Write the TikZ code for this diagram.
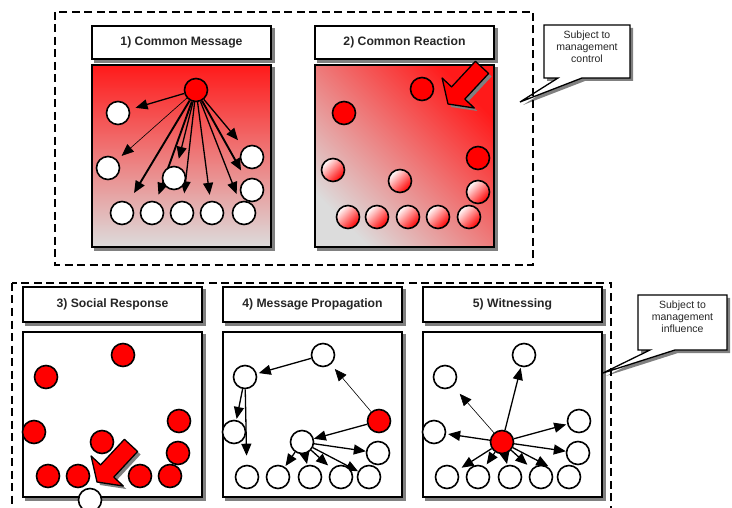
\documentclass[tikz,border=0pt]{standalone}
\usepackage{fontspec}
\setmainfont{Liberation Sans}
\usetikzlibrary{arrows.meta}
\pgfdeclarelayer{shadows}
\pgfdeclarelayer{boxes}
\pgfdeclarelayer{links}
\pgfsetlayers{shadows,boxes,links,main}
\definecolor{shadegray}{HTML}{808080}
\definecolor{panelgray}{HTML}{DCDCDC}
\definecolor{hotred}{HTML}{FF1A1A}

\tikzset{
  block arrow/.pic={
    \fill[shadegray, shift={(3,3)}] (27.4,-42.7) -- (40.6,-30.5) -- (16.8,-4.9) -- (26.3,4) -- (0,0) -- (-5.9,-26) -- (3.6,-17.1) -- cycle;
    \filldraw[fill=red, draw=black, line width=1.3pt, line join=round] (27.4,-42.7) -- (40.6,-30.5) -- (16.8,-4.9) -- (26.3,4) -- (0,0) -- (-5.9,-26) -- (3.6,-17.1) -- cycle;
  }
}

\begin{document}
\begin{tikzpicture}[x=1pt,y=-1pt,
  dot/.style={circle, draw=black, line width=1.6pt, minimum size=23pt, inner sep=0pt, fill=white},
  reddot/.style={dot, fill=red},
  fadedot/.style={dot, shading=axis, top color=white, bottom color=red, shading angle=45},
  link/.style={line width=1.3pt, -{Triangle[length=12pt,width=10pt]}, shorten >=#1},
  link/.default=7pt,
  thinlink/.style={line width=0.6pt},
  thicklink/.style={line width=1.9pt},
  titlebox/.style={draw=black, line width=1.3pt, fill=white, minimum width=179pt, minimum height=33pt,
    inner sep=0pt, font=\fontsize{12.2}{14}\selectfont\bfseries, text=black!85},
  panelbox/.style={draw=black, line width=1.8pt, fill=white, minimum width=179pt, minimum height=182pt, inner sep=0pt},
  groupline/.style={draw=black, line width=1.5pt, dash pattern=on 8pt off 4.5pt},
  callout/.style={draw=black, line width=1.3pt, fill=white, line join=miter},
  callouttext/.style={align=center, font=\fontsize{10.5}{12.2}\selectfont, text=black!85, inner sep=0pt}
]
\useasboundingbox (0,0) rectangle (732,508);

% ---------- frames of the five stages ----------
\begin{pgfonlayer}{boxes}
  \node[titlebox] (t1) at (181.5,42.5) {1) Common Message};
  \node[titlebox] (t2) at (404.5,42.5) {2) Common Reaction};
  \node[panelbox, shading=axis, top color=hotred, bottom color=panelgray] (p1) at (181.5,156) {};
  \node[panelbox, shading=axis, top color=hotred, bottom color=panelgray, shading angle=-45] (p2) at (404.5,156) {};

  \node[titlebox, minimum height=35pt] (t3) at (112.5,304.5) {3) Social Response};
  \node[titlebox, minimum height=35pt] (t4) at (312.5,304.5) {4) Message Propagation};
  \node[titlebox, minimum height=35pt] (t5) at (512.5,304.5) {5) Witnessing};
  \node[panelbox, minimum height=165pt] (p3) at (112.5,414.5) {};
  \node[panelbox, minimum height=165pt] (p4) at (312.5,414.5) {};
  \node[panelbox, minimum height=165pt] (p5) at (512.5,414.5) {};
\end{pgfonlayer}
\begin{pgfonlayer}{shadows}
  \foreach \b in {t1,t2,p1,p2,t3,t4,t5,p3,p4,p5}
    \fill[shadegray] ([xshift=3pt,yshift=-3pt]\b.north west) rectangle ([xshift=3pt,yshift=-3pt]\b.south east);
\end{pgfonlayer}

% ---------- 1) common message ----------
\node[reddot] (m0) at (196,90) {};
\node[dot] (m1) at (118,113) {};
\node[dot] (m2) at (108,168) {};
\node[dot] (m3) at (174,178) {};
\node[dot] (m4) at (252,157) {};
\node[dot] (m5) at (252,190) {};
\node[dot] (m6) at (122,213) {};
\node[dot] (m7) at (152,213) {};
\node[dot] (m8) at (182,213) {};
\node[dot] (m9) at (212,213) {};
\node[dot] (m10) at (244,213) {};
\begin{pgfonlayer}{links}
  \draw[link=6pt] (m0) -- (m1);
  \draw[link=6pt, thinlink] (m0) -- (m2);
  \draw[link=11pt, thicklink] (m0) -- (m6);
  \draw[link=7pt, thicklink] (m0) -- (m7);
  \draw[link=7.5pt] (m0) -- (m3);
  \draw[link=7.5pt] (m0) -- (m8);
  \draw[link=6pt] (m0) -- (m9);
  \draw[link=8pt] (m0) -- (m10);
  \draw[link=10pt, thicklink] (m0) -- (m5);
  \draw[link=9.5pt] (m0) -- (m4);
\end{pgfonlayer}

% ---------- 2) common reaction ----------
\node[reddot] (r1) at (422,89) {};
\node[reddot] (r2) at (344,113) {};
\node[reddot] (r3) at (478,158) {};
\node[fadedot] (r4) at (333,170) {};
\node[fadedot] (r5) at (400,181) {};
\node[fadedot] (r6) at (478,192) {};
\node[fadedot] (r7) at (348,217) {};
\node[fadedot] (r8) at (377,217) {};
\node[fadedot] (r9) at (408,217) {};
\node[fadedot] (r10) at (438,217) {};
\node[fadedot] (r11) at (469,217) {};
\pic at (448,104) {block arrow};

% ---------- 3) social response ----------
\node[reddot] (s1) at (123,355) {};
\node[reddot] (s2) at (46,377) {};
\node[reddot] (s3) at (34,432) {};
\node[reddot] (s4) at (179,421) {};
\node[reddot] (s5) at (102,442) {};
\node[reddot] (s6) at (178,453) {};
\node[reddot] (s7) at (48,476) {};
\node[reddot] (s8) at (78,476) {};
\node[reddot] (s9) at (140,476) {};
\node[reddot] (s10) at (170,476) {};
\node[dot] (s11) at (90,500) {};
\pic at (97,482) {block arrow};

% ---------- 4) message propagation ----------
\node[dot] (q1) at (323,355) {};
\node[dot] (q2) at (245,377) {};
\node[dot] (q3) at (234,432) {};
\node[reddot] (q4) at (379,421) {};
\node[dot] (q5) at (302,442) {};
\node[dot] (q6) at (378,453) {};
\node[dot] (q7) at (247,477) {};
\node[dot] (q8) at (278,477) {};
\node[dot] (q9) at (310,477) {};
\node[dot] (q10) at (341,477) {};
\node[dot] (q11) at (369,477) {};
\begin{pgfonlayer}{links}
  \draw[link=2pt] (q1) -- (q2);
  \draw[link=6pt, thinlink] (q4) -- (q1);
  \draw[link=1pt] (q2) -- (q3);
  \draw[link=9pt] (q2) -- (q7);
  \draw[link=0pt] (q4) -- (q5);
  \draw[link=1pt] (q5) -- (q8);
  \draw[link=1pt] (q5) -- (q9);
  \draw[link=5pt] (q5) -- (q10);
  \draw[link=0pt] (q5) -- (q6);
  \draw[link=0pt] (q5) -- (q11);
\end{pgfonlayer}

% ---------- 5) witnessing ----------
\node[dot] (w1) at (524,355) {};
\node[dot] (w2) at (445,377) {};
\node[dot] (w3) at (434,432) {};
\node[reddot] (w4) at (502,442) {};
\node[dot] (w5) at (579,421) {};
\node[dot] (w6) at (578,453) {};
\node[dot] (w7) at (447,477) {};
\node[dot] (w8) at (478,477) {};
\node[dot] (w9) at (510,477) {};
\node[dot] (w10) at (541,477) {};
\node[dot] (w11) at (569,477) {};
\begin{pgfonlayer}{links}
  \draw[link=1pt] (w4) -- (w1);
  \draw[link=10pt, thinlink] (w4) -- (w2);
  \draw[link=2pt] (w4) -- (w3);
  \draw[link=1pt] (w4) -- (w5);
  \draw[link=0pt] (w4) -- (w6);
  \draw[link=5pt] (w4) -- (w7);
  \draw[link=3pt] (w4) -- (w8);
  \draw[link=1pt] (w4) -- (w9);
  \draw[link=6pt] (w4) -- (w10);
  \draw[link=11pt] (w4) -- (w11);
\end{pgfonlayer}

% ---------- callouts ----------
\fill[shadegray, shift={(3,3)}] (544,25) -- (630,25) -- (630,78) -- (582,78) -- (520,102) -- (558,78) -- (544,78) -- cycle;
\draw[callout] (544,25) -- (630,25) -- (630,78) -- (582,78) -- (520,102) -- (558,78) -- (544,78) -- cycle;
\node[callouttext] (c1) at (587,47) {Subject to\\management\\control};

\fill[shadegray, shift={(3,3)}] (638,295) -- (727,295) -- (727,350) -- (675,350) -- (603,373) -- (650,350) -- (638,350) -- cycle;
\draw[callout] (638,295) -- (727,295) -- (727,350) -- (675,350) -- (603,373) -- (650,350) -- (638,350) -- cycle;
\node[callouttext] (c2) at (682.5,317) {Subject to\\management\\influence};

% ---------- dashed groups ----------
\draw[groupline] (55,12) rectangle (533,265);
\draw[groupline] (12,283) rectangle (611,530);
\end{tikzpicture}
\end{document}
